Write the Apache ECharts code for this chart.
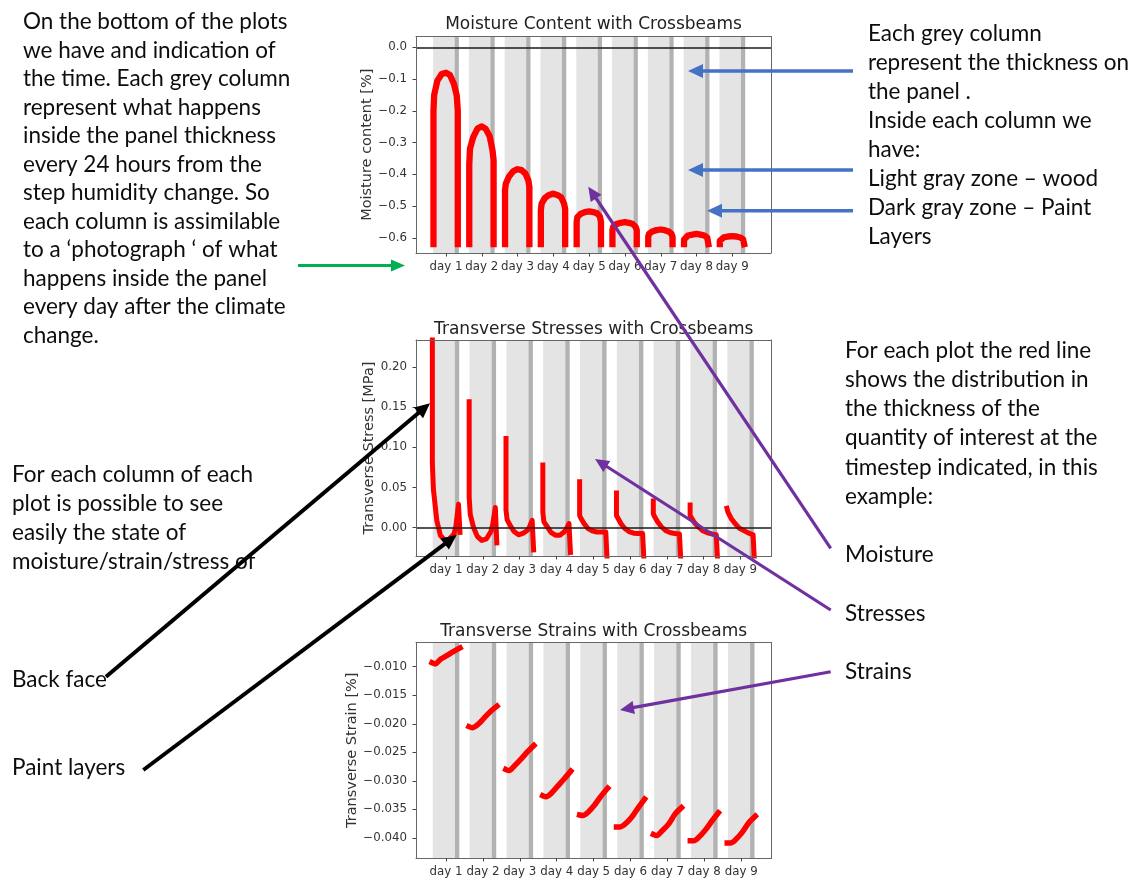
<!DOCTYPE html>
<html><head><meta charset="utf-8">
<script src="https://cdn.jsdelivr.net/npm/echarts@6/dist/echarts.min.js"></script>
<style>html,body{margin:0;padding:0;background:#fff}#c{width:1135px;height:878px}</style>
</head><body><div id="c"></div>
<script>
// ---------- data ----------
const days = [1, 2, 3, 4, 5, 6, 7, 8, 9];
const dayLabels = ['day 1','day 2','day 3','day 4','day 5','day 6','day 7','day 8','day 9'];
// thickness bands inside each day column (offset from the day tick)
const woodBand = [-0.36, 0.24];
const paintBand = [0.24, 0.36];

// Moisture content [%] – positions through the thickness and one profile per day
const moistPos = [-0.35, -0.35, -0.33, -0.24, -0.12, 0.0, 0.11, 0.22, 0.30, 0.33, 0.33];
const moistDay1 = [-0.62, -0.20, -0.15, -0.105, -0.084, -0.080, -0.087, -0.115, -0.152, -0.20, -0.62];
const moistDay2 = [-0.62, -0.37, -0.32, -0.283, -0.256, -0.249, -0.257, -0.28, -0.325, -0.355, -0.62];
const moistDay3 = [-0.62, -0.45, -0.43, -0.407, -0.39, -0.384, -0.387, -0.398, -0.419, -0.44, -0.62];
const moistDay4 = [-0.62, -0.514, -0.493, -0.475, -0.465, -0.461, -0.465, -0.473, -0.493, -0.51, -0.62];
const moistDay5 = [-0.62, -0.55, -0.535, -0.525, -0.519, -0.517, -0.519, -0.523, -0.533, -0.55, -0.62];
const moistDay6 = [-0.62, -0.576, -0.566, -0.557, -0.553, -0.551, -0.553, -0.557, -0.566, -0.576, -0.62];
const moistDay7 = [-0.62, -0.597, -0.588, -0.580, -0.576, -0.574, -0.576, -0.580, -0.588, -0.597, -0.62];
const moistDay8 = [-0.62, -0.606, -0.600, -0.593, -0.590, -0.588, -0.590, -0.593, -0.600, -0.606, -0.62];
const moistDay9 = [-0.62, -0.610, -0.605, -0.599, -0.596, -0.595, -0.596, -0.599, -0.605, -0.610, -0.62];
const moistTicks = [0, -0.1, -0.2, -0.3, -0.4, -0.5, -0.6];

// Transverse stress [MPa]
const stressPos = [-0.37, -0.37, -0.34, -0.25, -0.15, -0.03, 0.10, 0.22, 0.27, 0.34, 0.38];
const stressDay1 = [0.25, 0.080, 0.047, 0.009, -0.010, -0.016, -0.014, -0.008, 0.002, 0.029, -0.006];
const stressDay2 = [0.157, 0.038, 0.016, 0.000, -0.011, -0.016, -0.014, -0.005, 0.004, 0.025, -0.019];
const stressDay3 = [0.111, 0.022, 0.010, 0.002, -0.005, -0.009, -0.007, -0.003, 0.001, 0.009, -0.028];
const stressDay4 = [0.078, 0.0195, 0.007, 0.001, -0.006, -0.0095, -0.0095, -0.005, -0.002, 0.005, -0.031];
const stressDay5 = [0.057, 0.015, 0.012, 0.005, -0.001, -0.004, -0.0055, -0.0055, -0.0055, -0.0055, -0.045];
const stressDay6 = [0.043, 0.015, 0.013, 0.005, -0.001, -0.005, -0.007, -0.0075, -0.0075, -0.0075, -0.045];
const stressDay7 = [0.033, 0.0175, 0.014, 0.007, 0.001, -0.004, -0.0065, -0.0075, -0.0078, -0.008, -0.045];
const stressDay8 = [0.028, 0.015, 0.013, 0.006, 0.001, -0.004, -0.0065, -0.008, -0.0085, -0.009, -0.045];
const stressDay9 = [0.024, 0.022, 0.019, 0.011, 0.005, -0.001, -0.004, -0.007, -0.008, -0.009, -0.045];
const stressTicks = [0, 0.05, 0.10, 0.15, 0.20];

// Transverse strain [%]
const strainPos = [-0.38, -0.29, -0.15, 0.03, 0.21, 0.38];
const strainDay1 = [-0.0093, -0.0095, -0.0087, -0.0080, -0.0073, -0.0067];
const strainDay2 = [-0.0205, -0.0207, -0.0202, -0.0190, -0.0178, -0.0169];
const strainDay3 = [-0.0280, -0.0282, -0.0274, -0.0262, -0.0249, -0.0238];
const strainDay4 = [-0.0326, -0.0328, -0.0322, -0.0309, -0.0296, -0.0283];
const strainDay5 = [-0.0360, -0.0361, -0.0355, -0.0342, -0.0326, -0.0313];
const strainDay6 = [-0.0381, -0.0381, -0.0376, -0.0364, -0.0347, -0.0332];
const strainDay7 = [-0.0394, -0.0396, -0.0388, -0.0376, -0.0358, -0.0347];
const strainDay8 = [-0.0405, -0.0405, -0.0399, -0.0386, -0.0370, -0.0356];
const strainDay9 = [-0.0409, -0.0409, -0.0403, -0.0390, -0.0373, -0.0362];
const strainTicks = [-0.040, -0.035, -0.030, -0.025, -0.020, -0.015, -0.010];

const moistProfiles = [moistDay1, moistDay2, moistDay3, moistDay4, moistDay5, moistDay6, moistDay7, moistDay8, moistDay9];
const stressProfiles = [stressDay1, stressDay2, stressDay3, stressDay4, stressDay5, stressDay6, stressDay7, stressDay8, stressDay9];
const strainProfiles = [strainDay1, strainDay2, strainDay3, strainDay4, strainDay5, strainDay6, strainDay7, strainDay8, strainDay9];

// ---------- build ----------
const AX = 'DejaVu Sans';
const TX = 'Lato';
const fmt = d => v => (v < -1e-9 ? '\u2212' : '') + Math.abs(v).toFixed(d);

const panels = [
  {title: 'Moisture Content with Crossbeams', yName: 'Moisture content [%]', nameGap: 35,
   grid: {left: 416, top: 36.5, width: 355, height: 216.5},
   x: [0.162, 10.08], y: [-0.648, 0.034], ticks: moistTicks, dec: 1,
   pos: moistPos, prof: moistProfiles, zero: true, lw: 6.3, smooth: false},
  {title: 'Transverse Stresses with Crossbeams', yName: 'Transverse Stress [MPa]', nameGap: 32,
   grid: {left: 416, top: 340, width: 355.5, height: 216},
   x: [0.186, 9.84], y: [-0.0355, 0.234], ticks: stressTicks, dec: 2,
   pos: stressPos, prof: stressProfiles, zero: true, lw: 5, smooth: false},
  {title: 'Transverse Strains with Crossbeams', yName: 'Transverse Strain [%]', nameGap: 50,
   grid: {left: 416, top: 642.5, width: 355.5, height: 216.8},
   x: [0.186, 9.82], y: [-0.04353, -0.00575], ticks: strainTicks, dec: 3,
   pos: strainPos, prof: strainProfiles, zero: false, lw: 5.5, smooth: 0.3}
];

const grid = [], xAxis = [], yAxis = [], series = [];
panels.forEach((p, k) => {
  grid.push(Object.assign({containLabel: false}, p.grid));
  xAxis.push({type: 'value', gridIndex: k, min: p.x[0], max: p.x[1], z: 10,
    axisLine: {show: true, onZero: false, lineStyle: {color: '#666', width: 1}},
    axisTick: {show: true, length: 3.5, customValues: days, lineStyle: {color: '#444'}},
    axisLabel: {show: true, customValues: days, margin: 8, fontFamily: AX, fontSize: 11.8, color: '#333',
      formatter: v => dayLabels[days.indexOf(Math.round(v))] || ''},
    splitLine: {show: false}});
  yAxis.push({type: 'value', gridIndex: k, min: p.y[0], max: p.y[1], z: 10,
    name: p.yName, nameLocation: 'middle', nameGap: p.nameGap, nameRotate: 90,
    nameTextStyle: {fontFamily: AX, fontSize: 14.5, color: '#333'},
    axisLine: {show: true, onZero: false, lineStyle: {color: '#666', width: 1}},
    axisTick: {show: true, length: 3.5, customValues: p.ticks, lineStyle: {color: '#444'}},
    axisLabel: {show: true, customValues: p.ticks, margin: 9, fontFamily: AX, fontSize: 11.8, color: '#333',
      formatter: fmt(p.dec)},
    splitLine: {show: false}});
  // columns
  const areas = [];
  days.forEach(d => {
    areas.push([{xAxis: d + woodBand[0], itemStyle: {color: '#e4e4e4'}}, {xAxis: d + woodBand[1]}]);
    areas.push([{xAxis: d + paintBand[0], itemStyle: {color: '#b2b2b2'}}, {xAxis: d + paintBand[1]}]);
  });
  series.push({type: 'line', xAxisIndex: k, yAxisIndex: k, data: [], z: 1, silent: true,
    markArea: {silent: true, label: {show: false}, itemStyle: {opacity: 1}, emphasis: {disabled: true}, data: areas}});
  if (p.zero) {
    series.push({type: 'line', xAxisIndex: k, yAxisIndex: k, data: [], z: 2, silent: true,
      markLine: {silent: true, symbol: 'none', label: {show: false}, animation: false,
        lineStyle: {color: '#1a1a1a', width: 1.6, type: 'solid'}, emphasis: {disabled: true},
        data: [{yAxis: 0}]}});
  }
  p.prof.forEach((vals, i) => {
    series.push({type: 'line', xAxisIndex: k, yAxisIndex: k, z: 3, silent: true,
      showSymbol: false, smooth: p.smooth, clip: true,
      lineStyle: {color: '#ff0000', width: p.lw, cap: 'square', join: 'round'},
      data: p.pos.map((t, j) => [days[i] + t, vals[j]])});
  });
});
// extra axes for top and right frame
panels.forEach((p, k) => {
  xAxis.push({type: 'value', gridIndex: k, position: 'top', min: 0, max: 1, z: 10,
    axisLine: {show: true, onZero: false, lineStyle: {color: '#666', width: 1}},
    axisTick: {show: false}, axisLabel: {show: false}, splitLine: {show: false}});
  yAxis.push({type: 'value', gridIndex: k, position: 'right', min: 0, max: 1, z: 10,
    axisLine: {show: true, onZero: false, lineStyle: {color: '#666', width: 1}},
    axisTick: {show: false}, axisLabel: {show: false}, splitLine: {show: false}});
});

// ---------- annotations ----------
function arrow(x1, y1, x2, y2, color, w, hl, hw) {
  const dx = x2 - x1, dy = y2 - y1, L = Math.hypot(dx, dy), ux = dx / L, uy = dy / L;
  const bx = x2 - ux * hl, by = y2 - uy * hl, px = -uy, py = ux;
  return [
    {type: 'line', silent: true, z: 100, shape: {x1: x1, y1: y1, x2: bx + ux, y2: by + uy},
     style: {stroke: color, lineWidth: w}},
    {type: 'polygon', silent: true, z: 100,
     shape: {points: [[x2, y2], [bx + px * hw / 2, by + py * hw / 2], [bx - px * hw / 2, by - py * hw / 2]]},
     style: {fill: color}}
  ];
}
function txt(x, y, text, lh) {
  return {type: 'text', silent: true, z: 90, x: x, y: y,
    style: {text: text, fontFamily: TX, fontSize: 22.5, lineHeight: lh, fill: '#0d0d0d', textVerticalAlign: 'top'}};
}
function title(cx, cy, text) {
  return {type: 'text', silent: true, z: 90, x: cx, y: cy,
    style: {text: text, fontFamily: AX, fontSize: 17, fill: '#222', textAlign: 'center', textVerticalAlign: 'middle'}};
}
const BLUE = '#4472c4', PURPLE = '#7030a0', GREEN = '#00b050', BLACK = '#000';
const graphic = [
  title(593.5, 25, panels[0].title),
  title(593.7, 330, panels[1].title),
  title(593.7, 632, panels[2].title),
  txt(23, 7.5, 'On the bottom of the plots\nwe have and indication of\nthe time. Each grey column\nrepresent what happens\ninside the panel thickness\nevery 24 hours from the\nstep humidity change. So\neach column is assimilable\nto a \u2018photograph \u2018 of what\nhappens inside the panel\nevery day after the climate\nchange.', 28.5),
  txt(868, 18.8, 'Each grey column\nrepresent the thickness on\nthe panel .\nInside each column we\nhave:\nLight gray zone \u2013 wood\nDark gray zone \u2013 Paint\nLayers', 29.1),
  txt(845, 336, 'For each plot the red line\nshows the distribution in\nthe thickness of the\nquantity of interest at the\ntimestep indicated, in this\nexample:', 29.2),
  txt(845, 540.5, 'Moisture', 29),
  txt(845, 599, 'Stresses', 29),
  txt(845, 657.5, 'Strains', 29),
  txt(12, 460.5, 'For each column of each\nplot is possible to see\neasily the state of\nmoisture/strain/stress of', 28.9),
  txt(12, 665, 'Back face', 29),
  txt(12, 753.5, 'Paint layers', 29)
].concat(
  arrow(298, 265.5, 405, 265.5, GREEN, 3, 14, 12),
  arrow(853, 71, 688, 71, BLUE, 3.5, 15, 14),
  arrow(853, 170, 688, 170, BLUE, 3.5, 15, 14),
  arrow(853, 210.7, 707, 210.7, BLUE, 3.5, 15, 14),
  arrow(830.7, 548.3, 588.3, 186.7, PURPLE, 3.2, 14, 13),
  arrow(830.7, 610, 595, 459, PURPLE, 3.2, 14, 13),
  arrow(830.7, 671.7, 620, 710, PURPLE, 3.2, 14, 13),
  arrow(106, 676.7, 430, 403.3, BLACK, 4, 15, 14),
  arrow(143.3, 770, 456.7, 535, BLACK, 4, 15, 14)
);

const chart = echarts.init(document.getElementById('c'), null, {renderer: 'canvas'});
chart.setOption({animation: false, backgroundColor: '#fff', grid, xAxis, yAxis, series, graphic});
</script></body></html>
